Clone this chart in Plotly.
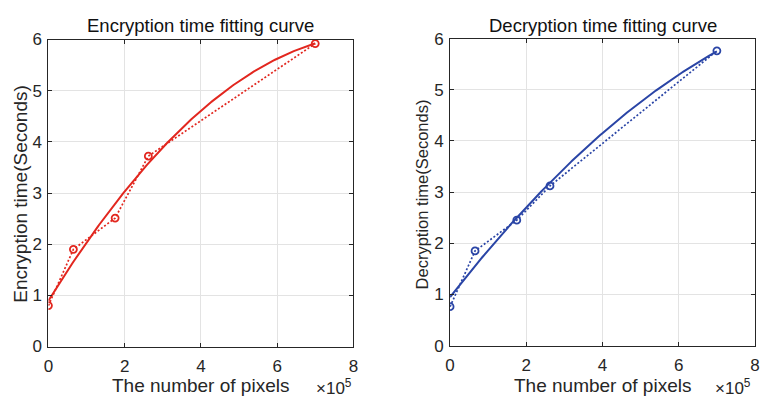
import numpy as np
import plotly.graph_objects as go

# Image sizes (number of pixels) and measured times in seconds
pixels = [0, 65536, 175000, 262144, 700000]
enc_time = [0.80, 1.90, 2.51, 3.72, 5.92]
dec_time = [0.76, 1.85, 2.45, 3.12, 5.76]

x_ticks = [0, 2e5, 4e5, 6e5, 8e5]
x_tick_text = ["0", "2", "4", "6", "8"]
y_ticks = [0, 1, 2, 3, 4, 5, 6]

RED = "#e2271f"
BLUE = "#2a45a6"
FONT = "Liberation Sans, Arial, sans-serif"
INK = "#262626"


def fit_curve(x, y):
    # second-order least-squares fit over the measured range
    coef = np.polyfit(np.array(x) / 1e5, np.array(y), 2)
    xs = np.linspace(min(x), max(x), 200)
    return xs, np.polyval(coef, xs / 1e5)


fig = go.Figure()

for idx, (ys, color) in enumerate([(enc_time, RED), (dec_time, BLUE)], start=1):
    xa = "x" if idx == 1 else "x2"
    ya = "y" if idx == 1 else "y2"
    fx, fy = fit_curve(pixels, ys)
    fig.add_trace(go.Scatter(x=pixels, y=ys, mode="lines+markers",
                             line=dict(color=color, width=1.7, dash="2px,2px"),
                             marker=dict(symbol="circle-open", size=7, color=color,
                                         line=dict(width=1.8, color=color)),
                             xaxis=xa, yaxis=ya, showlegend=False))
    fig.add_trace(go.Scatter(x=fx, y=fy, mode="lines",
                             line=dict(color=color, width=2),
                             xaxis=xa, yaxis=ya, showlegend=False))

axis_common = dict(showline=True, linecolor=INK, linewidth=1, mirror="ticks",
                   ticks="inside", ticklen=4, tickcolor=INK,
                   showgrid=True, gridcolor="#e3e3e3", gridwidth=1,
                   zeroline=False, tickfont=dict(family=FONT, size=17, color=INK))

x_common = dict(axis_common, range=[0, 8e5], tickvals=x_ticks, ticktext=x_tick_text,
                ticklabelstandoff=4)
y_common = dict(axis_common, range=[0, 6], tickvals=y_ticks, ticklabelstandoff=2)

fig.update_layout(
    width=761, height=408,
    margin=dict(l=0, r=0, t=0, b=0),
    paper_bgcolor="white", plot_bgcolor="white",
    font=dict(family=FONT, color=INK),
    xaxis=dict(x_common, domain=[44 / 761, 353 / 761], anchor="y"),
    yaxis=dict(y_common, domain=[54 / 408, 376 / 408], anchor="x"),
    xaxis2=dict(x_common, domain=[451 / 761, 760 / 761], anchor="y2"),
    yaxis2=dict(y_common, domain=[55 / 408, 377 / 408], anchor="x2"),
)


def label(text, px, py, size, angle=0, color=INK):
    return dict(text=text, x=px / 761, y=1 - py / 408,
                xref="paper", yref="paper", showarrow=False,
                xanchor="center", yanchor="middle", textangle=angle,
                font=dict(size=size, family=FONT, color=color))


ann = [
    label("Encryption time fitting curve", 198.5, 17, 18.5, color="#111111"),
    label("Decryption time fitting curve", 605.5, 17, 18.5, color="#111111"),
    label("The number of pixels", 198.5, 395, 19),
    label("The number of pixels", 605, 395, 19),
    label("×10<sup>5</sup>", 333, 396, 17),
    label("×10<sup>5</sup>", 738, 396, 17),
    label("Encryption time(Seconds)", 16, 194, 19, angle=-90),
    label("Decryption time(Seconds)", 423, 194, 16.5, angle=-90),
]
fig.update_layout(annotations=ann)

fig.write_html("out.html")
